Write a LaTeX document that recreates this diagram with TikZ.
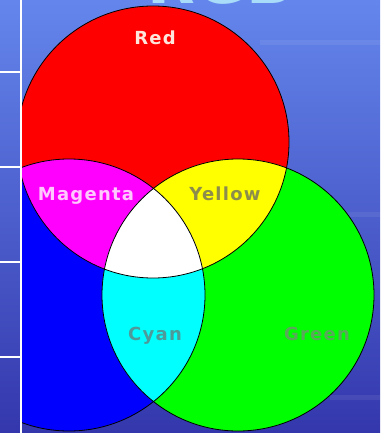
\documentclass[tikz,border=0pt]{standalone}
\usepackage{fontspec}
\usepackage{tikz}
\newfontfamily\lblfont[LetterSpace=7]{DejaVu Sans Bold}
\newfontfamily\titlefont{DejaVu Sans Bold}
\definecolor{bgtop}{HTML}{6486EC}
\definecolor{bgmid}{HTML}{4A5CD4}
\definecolor{bgbot}{HTML}{3437AC}
\definecolor{titleblue}{HTML}{A8DCF8}
\definecolor{rgbred}{HTML}{FF0000}
\definecolor{rgbgreen}{HTML}{00FF00}
\definecolor{rgbblue}{HTML}{0000FF}
\definecolor{rgbyellow}{HTML}{FFFF00}
\definecolor{rgbmagenta}{HTML}{FF00FF}
\definecolor{rgbcyan}{HTML}{00FFFF}
\definecolor{txtred}{HTML}{FFE6DC}
\definecolor{txtmagenta}{HTML}{FFC8FF}
\definecolor{txtyellow}{HTML}{8C8C4C}
\definecolor{txtcyan}{HTML}{4E9A9A}
\definecolor{txtgreen}{HTML}{5AA85A}

\begin{document}
\begin{tikzpicture}[x=1pt,y=-1pt]
  \tikzstyle{lbl}=[font=\lblfont\fontsize{18}{18}\selectfont,anchor=base,inner sep=0pt]
  \tikzstyle{rim}=[draw=black,line width=0.8pt]
  \tikzstyle{rule}=[draw=white,line width=1.6pt]
  \useasboundingbox (0,0) rectangle (380,433);
  % background
  \shade[top color=bgtop,middle color=bgmid,bottom color=bgbot] (0,0) rectangle (380,433);
  \foreach \y/\a/\b in {40/260/380,118/20/110,212/300/380,395/330/380}
    \fill[white,opacity=.07] (\a,\y) rectangle (\b,\y+5);
  \node[font=\titlefont\fontsize{62}{62}\selectfont,text=titleblue,anchor=base east,
    inner sep=0pt] (title) at (294,4) {RGB};
  % circle centres
  \coordinate (redc) at (153,142);
  \coordinate (bluec) at (69,295);
  \coordinate (greenc) at (238,295);
  \begin{scope}
    \clip (22,0) rectangle (380,433);
    \fill[rgbred] (redc) circle (136);
    \fill[rgbblue] (bluec) circle (136);
    \fill[rgbgreen] (greenc) circle (136);
    \begin{scope}
      \clip (redc) circle (136);
      \fill[rgbyellow] (greenc) circle (136);
      \fill[rgbmagenta] (bluec) circle (136);
    \end{scope}
    \begin{scope}
      \clip (bluec) circle (136);
      \fill[rgbcyan] (greenc) circle (136);
      \clip (greenc) circle (136);
      \fill[white] (redc) circle (136);
    \end{scope}
    \draw[rim] (redc) circle (136);
    \draw[rim] (bluec) circle (136);
    \draw[rim] (greenc) circle (136);
  \end{scope}
  % left strip
  \draw[rule] (21,0) -- (21,433);
  \foreach \y in {72,167,262,357}
    \draw[rule] (0,\y) -- (21,\y);
  % labels
  \node[lbl,text=txtred] (red) at (155,45) {Red};
  \node[lbl,text=txtmagenta] (magenta) at (86,200) {Magenta};
  \node[lbl,text=txtyellow] (yellow) at (225,200) {Yellow};
  \node[lbl,text=txtcyan] (cyan) at (155,340) {Cyan};
  \node[lbl,text=txtgreen] (green) at (317,340) {Green};
\end{tikzpicture}
\end{document}
